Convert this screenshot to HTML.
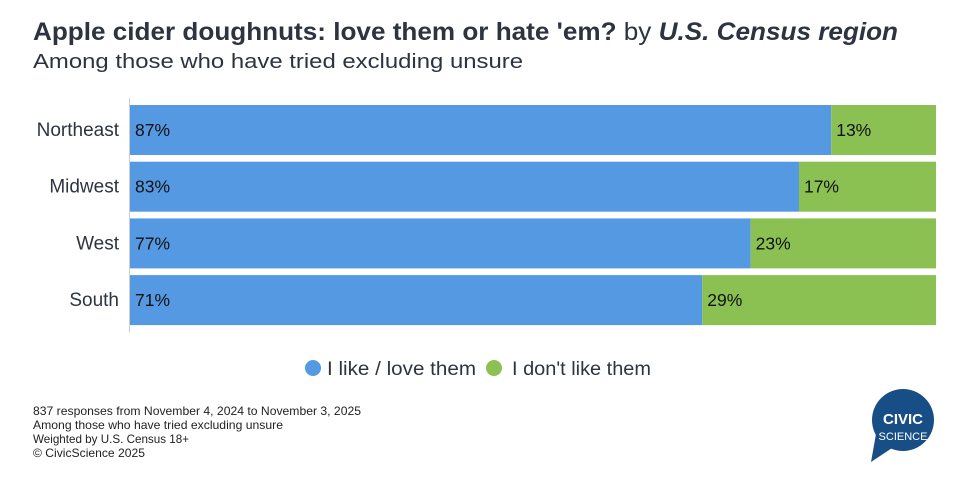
<!DOCTYPE html>
<html><head><meta charset="utf-8"><style>
body{margin:0;background:#fff;width:966px;height:485px;overflow:hidden;font-family:"Liberation Sans",Arial,sans-serif;}
</style></head><body>
<svg width="966" height="485" xmlns="http://www.w3.org/2000/svg">
<text x="33" y="40" font-size="25" font-weight="bold" fill="#2d3440" textLength="865" lengthAdjust="spacingAndGlyphs">Apple cider doughnuts: love them or hate 'em? <tspan font-weight="normal">by </tspan><tspan font-style="italic">U.S. Census region</tspan></text>
<text x="33" y="68" font-size="20" fill="#2d3440" textLength="490" lengthAdjust="spacingAndGlyphs">Among those who have tried excluding unsure</text>
<line x1="129.5" y1="98" x2="129.5" y2="332" stroke="#ccc" stroke-width="1"/>
<g id="bars"></g>
<g>
<circle cx="313" cy="368" r="8" fill="#5599e3"/>
<text x="327" y="375" font-size="19" fill="#2d3440" textLength="149" lengthAdjust="spacingAndGlyphs">I like / love them</text>
<circle cx="494" cy="368" r="8" fill="#8bc052"/>
<text x="512" y="375" font-size="19" fill="#2d3440" textLength="139" lengthAdjust="spacingAndGlyphs">I don't like them</text>
</g>
<g font-size="12" fill="#222">
<text x="33" y="415" textLength="328" lengthAdjust="spacingAndGlyphs">837 responses from November 4, 2024 to November 3, 2025</text>
<text x="33" y="429" textLength="250" lengthAdjust="spacingAndGlyphs">Among those who have tried excluding unsure</text>
<text x="33" y="443" textLength="156" lengthAdjust="spacingAndGlyphs">Weighted by U.S. Census 18+</text>
<text x="33" y="457" textLength="112" lengthAdjust="spacingAndGlyphs">© CivicScience 2025</text>
</g>
<g>
<circle cx="903" cy="420" r="31" fill="#174e85"/>
<path d="M876 434 L871 462 L892 448 Z" fill="#174e85"/>
<text x="903" y="424" text-anchor="middle" font-size="15" font-weight="bold" fill="#fff">CIVIC</text>
<text x="903" y="440" text-anchor="middle" font-size="11" fill="#fff">SCIENCE</text>
</g>
</svg>
<script>
const categories=["Northeast","Midwest","West","South"];
const likeValues=[87,83,77,71];
const dislikeValues=[13,17,23,29];
const ns="http://www.w3.org/2000/svg";
const g=document.getElementById("bars");
const x0=130,plotW=806,top0=105,band=56.7,barH=50;
function xs(v){return v/100*plotW;}
function mk(tag,attrs){const e=document.createElementNS(ns,tag);for(const k in attrs)e.setAttribute(k,attrs[k]);g.appendChild(e);return e;}
categories.forEach((c,i)=>{
 const y=top0+i*band;
 const t=mk("text",{x:119,y:y+barH/2+6,"text-anchor":"end","font-size":19,fill:"#2d3440"});
 t.textContent=c;
 
 
 const w1=xs(likeValues[i]);
 const r1=mk("rect",{x:x0,y:y,width:w1,height:barH,fill:"#5599e3"});
 
 
 const r2=mk("rect",{x:x0+w1,y:y,width:xs(dislikeValues[i]),height:barH,fill:"#8bc052"});
 
 
 const l1=mk("text",{x:x0+5,y:y+barH/2+6,"font-size":17.5,fill:"#111"});
 l1.textContent=likeValues[i]+"%";
 
 
 const l2=mk("text",{x:x0+w1+5,y:y+barH/2+6,"font-size":17.5,fill:"#111"});
 l2.textContent=dislikeValues[i]+"%";
 
 
});
</script>
</body></html>
